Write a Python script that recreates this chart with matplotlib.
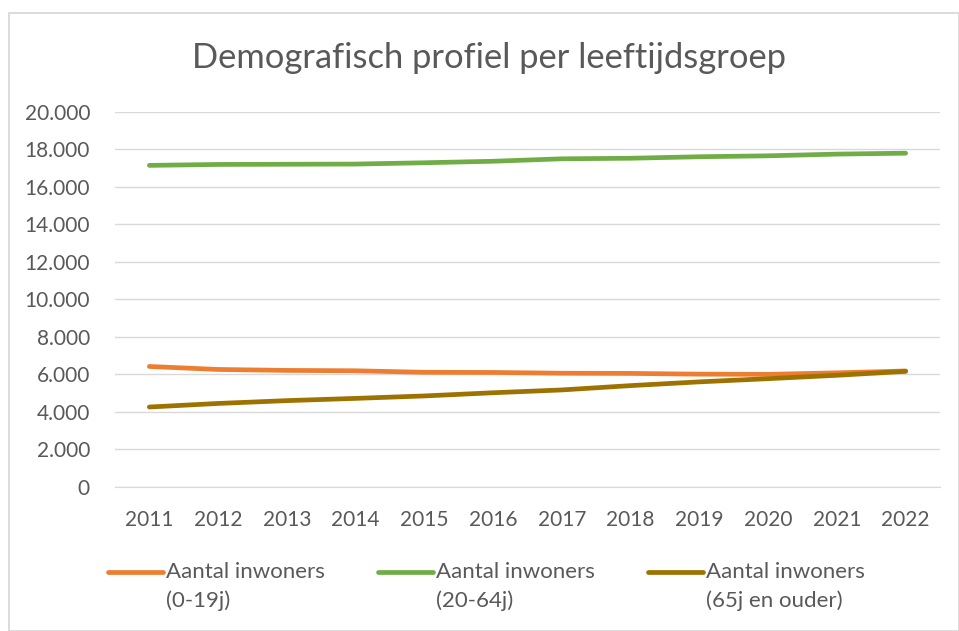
"""Demografisch profiel per leeftijdsgroep."""

import matplotlib

matplotlib.use("Agg")
import matplotlib.pyplot as plt
from matplotlib.lines import Line2D
from matplotlib.patches import Rectangle
from matplotlib.ticker import FuncFormatter

years = [2011, 2012, 2013, 2014, 2015, 2016, 2017, 2018, 2019, 2020, 2021, 2022]
jong = [6420, 6260, 6210, 6190, 6110, 6100, 6060, 6050, 6010, 6000, 6080, 6180]
werkend = [17130, 17180, 17190, 17200, 17270, 17350, 17480, 17510, 17590, 17640, 17730, 17780]
ouder = [4260, 4450, 4600, 4720, 4850, 5020, 5170, 5400, 5600, 5770, 5950, 6160]
labels = [
    "Aantal inwoners\n(0-19j)",
    "Aantal inwoners\n(20-64j)",
    "Aantal inwoners\n(65j en ouder)",
]
colors = ["#ED7D31", "#70AD47", "#9E7200"]

TEXT = "#595959"
GRID = "#D9D9D9"
W, H = 959, 631

plt.rcParams["font.family"] = ["Lato", "DejaVu Sans"]

fig = plt.figure(figsize=(W / 100, H / 100), dpi=100)
fig.patches.append(
    Rectangle((8.5 / W, 0), (W - 9) / W, 1 - 12.5 / H, transform=fig.transFigure,
              fill=False, edgecolor=GRID, linewidth=1.3)
)

ax = fig.add_axes([115 / W, 1 - 487 / H, 825 / W, (487 - 111.5) / H])
x = range(len(years))
for series, color in zip([jong, werkend, ouder], colors):
    ax.plot(x, series, color=color, linewidth=3.4, solid_capstyle="round")

ax.set_xlim(-0.5, len(years) - 0.5)
ax.set_ylim(0, 20000)
ax.set_yticks(range(0, 20001, 2000))
ax.yaxis.set_major_formatter(FuncFormatter(lambda v, _: f"{int(v):,}".replace(",", ".")))
ax.set_xticks(list(x))
ax.set_xticklabels([str(y) for y in years])
ax.grid(axis="y", color=GRID, linewidth=1)
ax.set_axisbelow(True)
for side in ["top", "right", "left"]:
    ax.spines[side].set_visible(False)
ax.spines["bottom"].set_color(GRID)
ax.tick_params(length=0, labelsize=15, colors=TEXT)
ax.tick_params(axis="y", pad=18)
ax.tick_params(axis="x", pad=16.5)

fig.text(0.5 * (192 + 785) / W, 1 - 58 / H, "Demografisch profiel per leeftijdsgroep",
         ha="center", va="center", fontsize=24.8, color=TEXT)

# legend drawn by hand: handle sits next to the first text line, like the original
for i, (label, color) in enumerate(zip(labels, colors)):
    x0 = (108 + 270 * i) / W
    fig.lines.append(Line2D([x0, x0 + 55 / W], [1 - 572 / H] * 2, transform=fig.transFigure,
                            color=color, linewidth=3.4, solid_capstyle="round"))
    fig.text(x0 + 58 / W, 1 - 562.5 / H, label, ha="left", va="top", fontsize=16,
             color=TEXT, linespacing=1.5)

fig.savefig("out.png", dpi=100)
